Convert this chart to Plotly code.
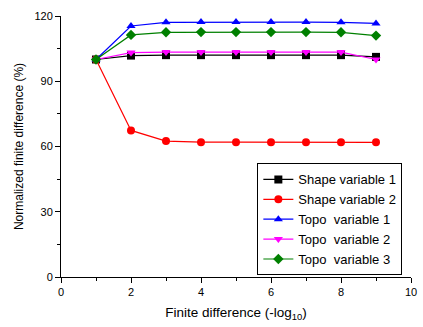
import plotly.graph_objects as go

# Finite difference step (-log10) and normalized difference (%) per design variable
steps = [1, 2, 3, 4, 5, 6, 7, 8, 9]
shape_var1 = [100, 101.8, 102.0, 102.0, 102.0, 102.0, 102.0, 102.0, 101.2]
shape_var2 = [100, 67.4, 62.5, 62.0, 62.0, 62.0, 62.0, 61.9, 61.9]
topo_var1 = [100, 115.4, 117.1, 117.2, 117.2, 117.2, 117.2, 117.1, 116.6]
topo_var2 = [100, 103.2, 103.4, 103.4, 103.4, 103.4, 103.4, 103.4, 100.0]
topo_var3 = [100, 111.3, 112.5, 112.6, 112.6, 112.6, 112.6, 112.5, 111.0]

x_ticks = [0, 2, 4, 6, 8, 10]
y_ticks = [0, 30, 60, 90, 120]

series = [
    ("Shape variable 1", shape_var1, "black", "square"),
    ("Shape variable 2", shape_var2, "red", "circle"),
    ("Topo  variable 1", topo_var1, "blue", "triangle-up"),
    ("Topo  variable 2", topo_var2, "magenta", "triangle-down"),
    ("Topo  variable 3", topo_var3, "green", "diamond"),
]

FONT = "Liberation Sans, Arial"

fig = go.Figure()
for name, vals, color, sym in series:
    fig.add_trace(go.Scatter(
        x=steps, y=vals, name=name, mode="lines+markers",
        line=dict(color=color, width=1.2),
        marker=dict(symbol=sym, size=8, color=color),
    ))

axis_common = dict(
    showline=True, linecolor="black", linewidth=1,
    ticks="outside", ticklen=5, tickcolor="black",
    showgrid=False, zeroline=False,
    ticklabeloverflow="allow",
    tickfont=dict(family=FONT, size=11, color="black"),
    minor=dict(ticks="outside", ticklen=3, tickcolor="black"),
)

fig.update_xaxes(
    range=[0, 10], tickvals=x_ticks, minor_dtick=1,
    title=dict(text="Finite difference (-log<sub>10</sub>)", standoff=10,
               font=dict(family=FONT, size=13.5, color="black")),
    **axis_common,
)
fig.update_yaxes(
    range=[0, 120], tickvals=y_ticks, minor_dtick=15,
    title=dict(text="Normalized finite difference (%)", standoff=8,
               font=dict(family=FONT, size=12, color="black")),
    **axis_common,
)

fig.update_layout(
    width=423, height=327,
    margin=dict(l=61, r=6, t=16, b=50),
    plot_bgcolor="white", paper_bgcolor="white",
    font=dict(family=FONT, color="black"),
    legend=dict(
        x=0.561, y=0.435, xanchor="left", yanchor="top",
        bordercolor="black", borderwidth=1, bgcolor="white",
        font=dict(family=FONT, size=13, color="black"),
        tracegroupgap=0, entrywidth=108, entrywidthmode="pixels",
    ),
)

fig.write_html("out.html")
